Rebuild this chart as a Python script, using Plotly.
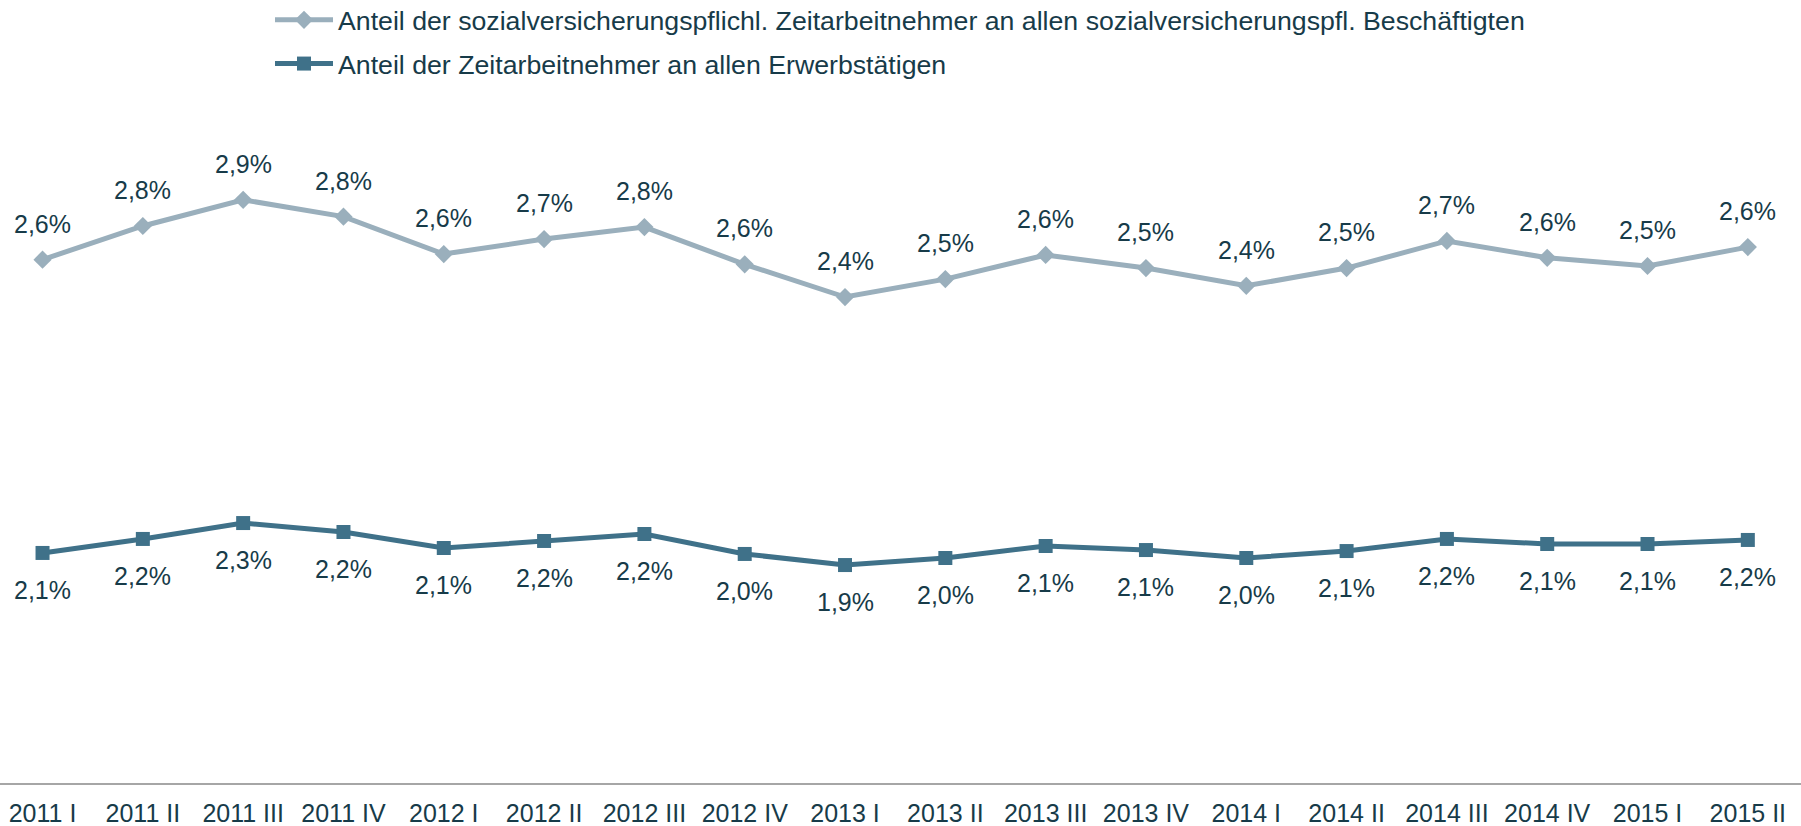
import plotly.graph_objects as go

categories = ["2011 I", "2011 II", "2011 III", "2011 IV", "2012 I", "2012 II", "2012 III", "2012 IV",
              "2013 I", "2013 II", "2013 III", "2013 IV", "2014 I", "2014 II", "2014 III", "2014 IV",
              "2015 I", "2015 II"]

# Anteil der sozialversicherungspflichl. Zeitarbeitnehmer an allen sozialversicherungspfl. Beschäftigten (%)
svp_share = [2.58, 2.76, 2.90, 2.81, 2.61, 2.69, 2.754, 2.555, 2.38, 2.476, 2.605, 2.535,
             2.44, 2.535, 2.68, 2.59, 2.546, 2.647]
# Anteil der Zeitarbeitnehmer an allen Erwerbstätigen (%)
all_share = [2.054, 2.179, 2.321, 2.241, 2.098, 2.161, 2.223, 2.045, 1.946, 2.009, 2.116, 2.080,
             2.009, 2.071, 2.179, 2.134, 2.134, 2.170]

name_svp = "Anteil der sozialversicherungspflichl. Zeitarbeitnehmer an allen sozialversicherungspfl. Beschäftigten"
name_all = "Anteil der Zeitarbeitnehmer an allen Erwerbstätigen"


def fmt(v):
    return f"{v:.1f}".replace(".", ",") + "%"


svp_labels = [fmt(v) for v in svp_share]
all_labels = [fmt(v) for v in all_share]

C_LIGHT = "#9AAFBC"
C_DARK = "#3F7189"
C_TEXT = "#173B49"
FONT = "Liberation Sans, Arial, sans-serif"

fig = go.Figure()
fig.add_trace(go.Scatter(
    x=categories, y=svp_share, name=name_svp, yaxis="y2", mode="lines+markers",
    line=dict(color=C_LIGHT, width=5), legendgroup="a",
    marker=dict(symbol="diamond", size=14, color=C_LIGHT),
))
fig.add_trace(go.Scatter(
    x=categories, y=all_share, name=name_all, yaxis="y", mode="lines+markers",
    line=dict(color=C_DARK, width=5), legendgroup="b",
    marker=dict(symbol="square", size=14, color=C_DARK),
))

annotations = []
for c, v, t in zip(categories, svp_share, svp_labels):
    annotations.append(dict(x=c, y=v, xref="x", yref="y2", text=t, showarrow=False,
                            yshift=36, font=dict(size=25, color=C_TEXT, family=FONT)))
for c, v, t in zip(categories, all_share, all_labels):
    annotations.append(dict(x=c, y=v, xref="x", yref="y", text=t, showarrow=False,
                            yshift=-37, font=dict(size=25, color=C_TEXT, family=FONT)))

fig.update_layout(
    width=1801, height=826,
    margin=dict(l=0, r=0, t=111, b=43, autoexpand=False),
    paper_bgcolor="white", plot_bgcolor="white",
    font=dict(family=FONT, color=C_TEXT),
    showlegend=True,
    legend=dict(x=270 / 1801, y=(783 + 4) / 672, xanchor="left", yanchor="top",
                font=dict(size=26.7, color=C_TEXT, family=FONT), itemwidth=58,
                tracegroupgap=6, bgcolor="rgba(0,0,0,0)"),
    xaxis=dict(type="category", range=[-0.424, 17.53], showgrid=False, zeroline=False,
               showline=True, linecolor="#A6A6A6", linewidth=2, ticks="",
               tickfont=dict(size=25, color=C_TEXT, family=FONT), ticklabelstandoff=7,
               automargin=False),
    yaxis=dict(range=[0, 6], visible=False, showgrid=False, zeroline=False),
    yaxis2=dict(range=[-0.219, 3.375], overlaying="y", side="right", visible=False,
                showgrid=False, zeroline=False),
    annotations=annotations,
)

fig.write_html("out.html", config={"displayModeBar": False},
               post_script="document.body.style.margin='0px';document.body.style.overflow='hidden';")
